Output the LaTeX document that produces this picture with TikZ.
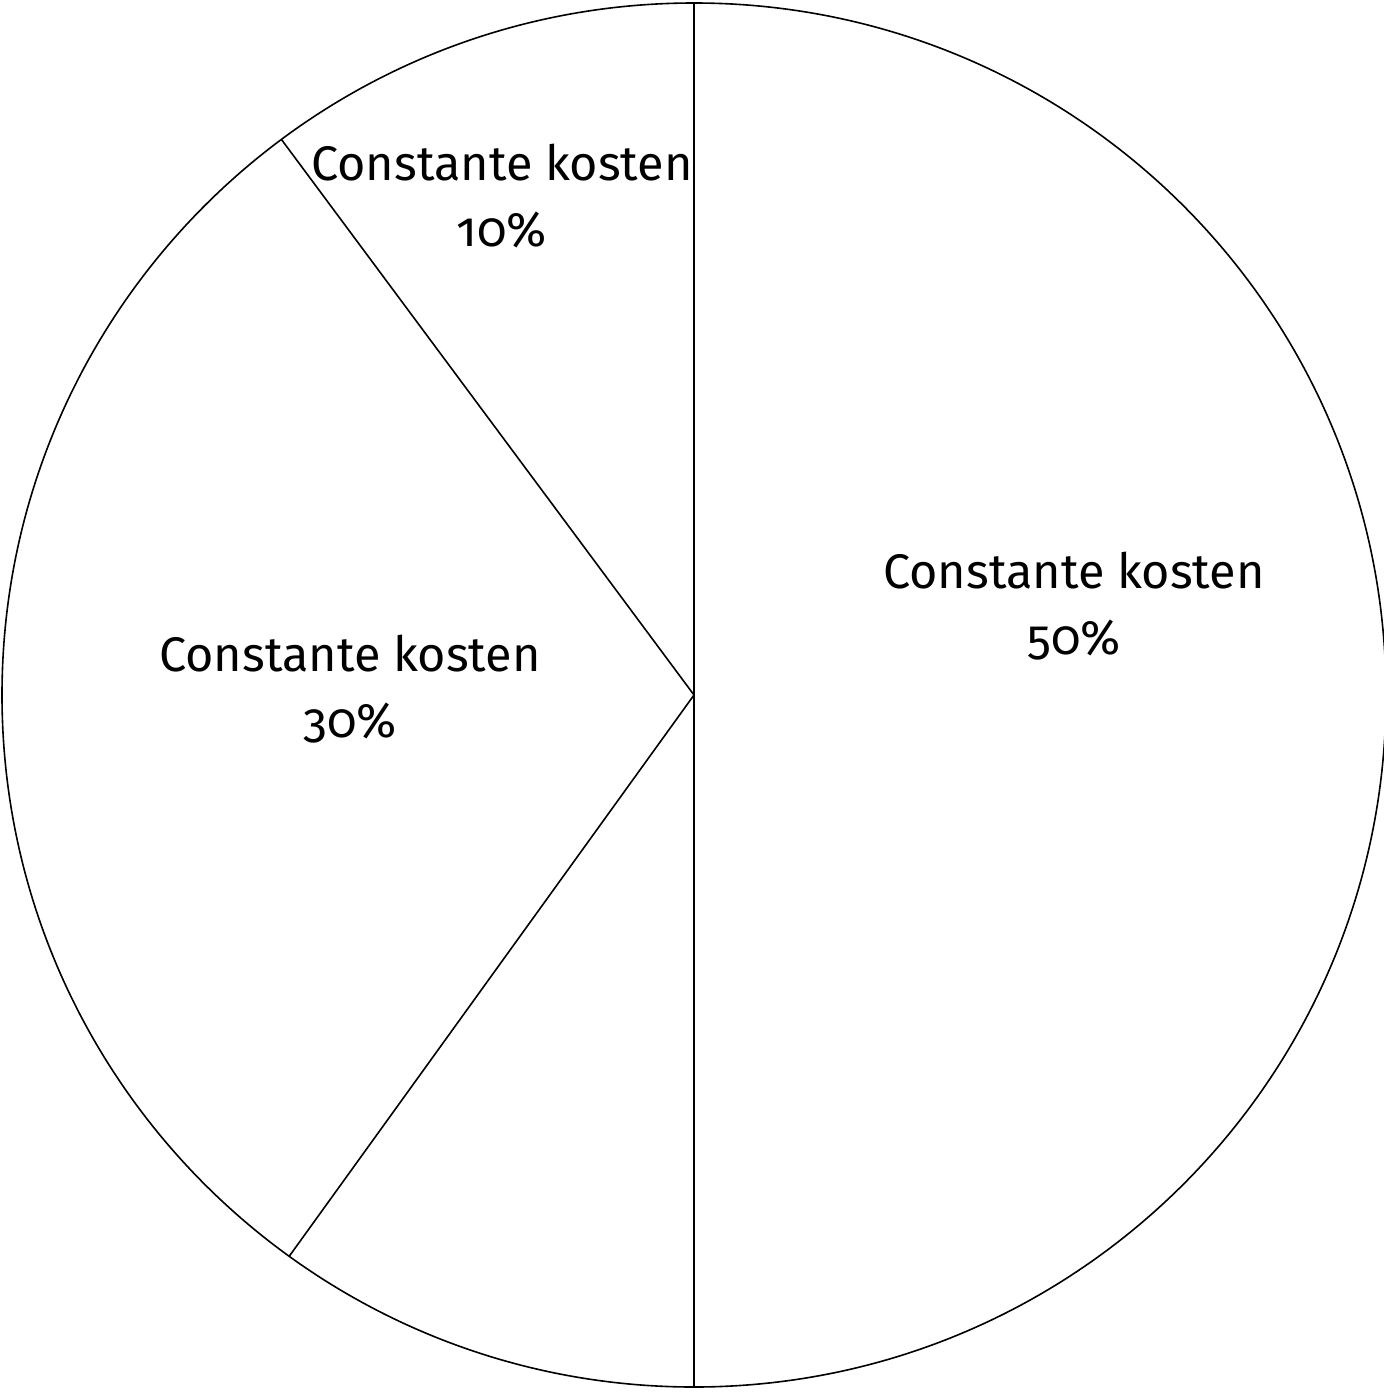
\documentclass[tikz,border=0pt]{standalone}
\usepackage{fontspec}
\setmainfont{Fira Sans}[Numbers=OldStyle]
\usetikzlibrary{calc}
\begin{document}
\begin{tikzpicture}[x=0.5pt,y=-0.5pt,
  edge/.style={draw=black,line width=0.8pt},
  lbl/.style={align=center,inner sep=0pt,font=\fontsize{24.3}{33}\selectfont}]
\useasboundingbox (0,0) rectangle (1384,1392);
\coordinate (c) at (694,695);
\draw[edge] (c) circle[radius=692];
\coordinate (top) at ($(c)+(0,-692)$);
\coordinate (bot) at ($(c)+(0,692)$);
\coordinate (ul) at ($(c)+({-692*sin(36.6)},{-692*cos(36.6)})$);
\coordinate (ll) at ($(c)+({-692*sin(35.8)},{692*cos(35.8)})$);
\draw[edge] (top) -- (bot);
\draw[edge] (c) -- (ul);
\draw[edge] (c) -- (ll);
\node[lbl] (l50) at (1074,606) {Constante kosten\\50\%};
\node[lbl] (l10) at (502,196) {Constante kosten\\10\%};
\node[lbl] (l30) at (350,689) {Constante kosten\\30\%};
\end{tikzpicture}
\end{document}
